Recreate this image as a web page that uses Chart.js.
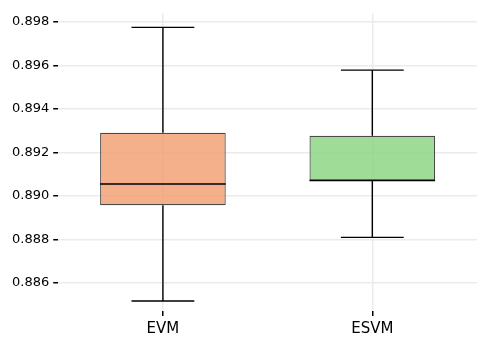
<!DOCTYPE html>
<html lang="en">
<head>
    <meta charset="UTF-8">
    <title>Box Plot</title>
    <script src="https://cdn.jsdelivr.net/npm/chart.js"></script>
    <style>
        body { margin: 0; background: #fff; }
        #wrap { width: 490px; height: 348px; }
    </style>
</head>
<body>
    <div id="wrap"><canvas id="myChart"></canvas></div>

    <script>
        // box plot stats
        const labels = ['EVM', 'ESVM'];
        const whiskerLow = [0.88516, 0.88809];
        const q1 = [0.88957, 0.89071];
        const median = [0.89055, 0.89071];
        const q3 = [0.89291, 0.89277];
        const whiskerHigh = [0.89776, 0.89579];
        const yTicks = [0.886, 0.888, 0.890, 0.892, 0.894, 0.896, 0.898];

        const boxColors = ['rgba(241, 162, 118, 0.85)', 'rgba(141, 214, 134, 0.85)'];

        // whiskers, caps and median lines drawn with the chart scales
        const whiskerPlugin = {
            id: 'whiskers',
            afterDatasetsDraw(chart) {
                const ctx = chart.ctx;
                const x = chart.scales.x;
                const y = chart.scales.y;
                const meta = chart.getDatasetMeta(0);
                ctx.save();
                ctx.strokeStyle = '#000';
                ctx.lineWidth = 1.4;
                labels.forEach((l, i) => {
                    const cx = x.getPixelForValue(i);
                    const half = meta.data[i].width / 2;
                    const cap = half / 2;
                    ctx.beginPath();
                    // upper whisker
                    ctx.moveTo(cx, y.getPixelForValue(q3[i]));
                    ctx.lineTo(cx, y.getPixelForValue(whiskerHigh[i]));
                    ctx.moveTo(cx - cap, y.getPixelForValue(whiskerHigh[i]));
                    ctx.lineTo(cx + cap, y.getPixelForValue(whiskerHigh[i]));
                    // lower whisker
                    ctx.moveTo(cx, y.getPixelForValue(q1[i]));
                    ctx.lineTo(cx, y.getPixelForValue(whiskerLow[i]));
                    ctx.moveTo(cx - cap, y.getPixelForValue(whiskerLow[i]));
                    ctx.lineTo(cx + cap, y.getPixelForValue(whiskerLow[i]));
                    // median
                    ctx.moveTo(cx - half, y.getPixelForValue(median[i]));
                    ctx.lineTo(cx + half, y.getPixelForValue(median[i]));
                    ctx.stroke();
                });
                ctx.restore();
            }
        };

        const ctx = document.getElementById('myChart').getContext('2d');
        const myChart = new Chart(ctx, {
            type: 'bar',
            data: {
                labels: labels,
                datasets: [{
                    data: labels.map((l, i) => [q1[i], q3[i]]),
                    backgroundColor: boxColors,
                    borderColor: '#4a4a4a',
                    borderWidth: 1.2,
                    borderSkipped: false,
                    barPercentage: 0.6,
                    categoryPercentage: 1.0
                }]
            },
            plugins: [whiskerPlugin],
            options: {
                responsive: true,
                maintainAspectRatio: false,
                animation: false,
                layout: { padding: { top: 13, right: 13, left: 8, bottom: 6 } },
                plugins: {
                    legend: { display: false },
                    tooltip: { enabled: false }
                },
                scales: {
                    x: {
                        offset: true,
                        border: { display: false },
                        grid: {
                            offset: false,
                            color: '#ebebeb',
                            lineWidth: 1.5,
                            tickColor: '#000',
                            tickLength: 5
                        },
                        ticks: {
                            color: '#000',
                            padding: 4,
                            font: { family: 'DejaVu Sans', size: 15 }
                        }
                    },
                    y: {
                        min: 0.8847,
                        max: 0.89842,
                        afterBuildTicks: (axis) => {
                            axis.ticks = yTicks.map(v => ({ value: v }));
                        },
                        border: { display: false },
                        grid: {
                            color: '#ebebeb',
                            lineWidth: 1.5,
                            tickColor: '#000',
                            tickLength: 5
                        },
                        ticks: {
                            color: '#000',
                            padding: 4,
                            font: { family: 'DejaVu Sans', size: 13 },
                            callback: (v) => v.toFixed(3)
                        }
                    }
                }
            }
        });
    </script>
</body>
</html>
